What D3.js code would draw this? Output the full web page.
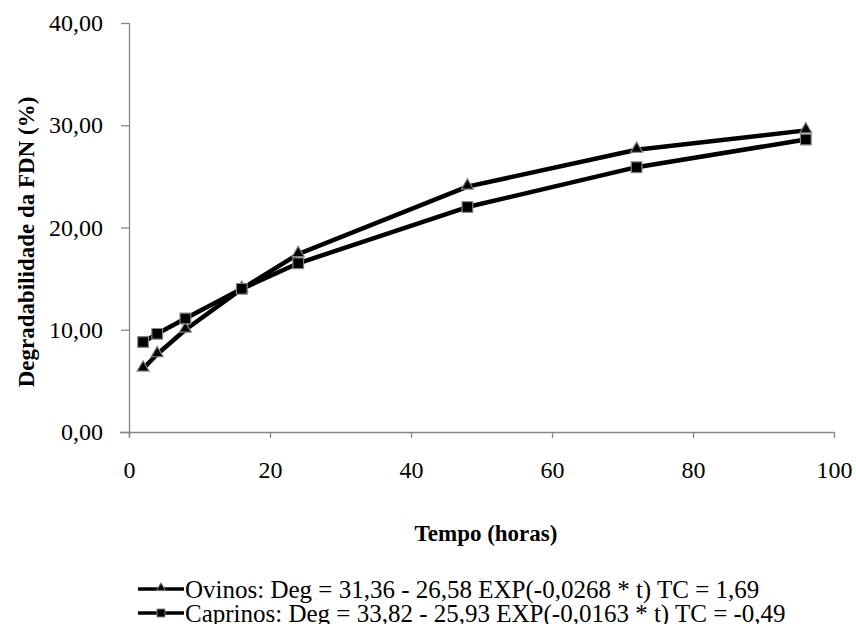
<!DOCTYPE html>
<html>
<head>
<meta charset="utf-8">
<script src="https://cdn.jsdelivr.net/npm/d3@7"></script>
</head>
<body style="margin:0; background:#fff">
<div id="chart"></div>
<script>
const hours = [2, 4, 8, 16, 24, 48, 72, 96]
const ovinos = [6.2, 7.6, 10.0, 14.0, 17.4, 24.0, 27.6, 29.5]
const caprinos = [8.8, 9.6, 11.1, 14.0, 16.5, 22.0, 25.9, 28.6]
const xTicks = [0, 20, 40, 60, 80, 100]
const yTicks = [0, 10, 20, 30, 40]
const seriesNames = [
    "Ovinos: Deg = 31,36 - 26,58 EXP(-0,0268 * t) TC = 1,69",
    "Caprinos: Deg = 33,82 - 25,93 EXP(-0,0163 * t) TC = -0,49"
]

var width = 856
var height = 624
var serif = "Liberation Serif"
var axisColor = "#868686"

const svg = d3.select("#chart")
    .append("svg")
    .attr("width", width)
    .attr("height", height)

var xScale = d3.scaleLinear().domain([0, 100]).range([129, 834])
var yScale = d3.scaleLinear().domain([0, 40]).range([432, 23])

// axes
var xAxis = d3.axisBottom(xScale).tickValues(xTicks).tickSize(6).tickPadding(23)
var gx = svg.append("g")
    .attr("transform", "translate(0," + yScale(0) + ")")
    .call(xAxis)
gx.select(".domain").attr("d", "M" + (xScale(0) - 9) + ",0.5H" + xScale(100))
gx.selectAll("path, line").attr("stroke", axisColor).attr("stroke-width", 1.3)
gx.selectAll("text")
    .attr("font-family", serif)
    .attr("font-size", 24)
    .attr("fill", "#000")

var yAxis = d3.axisLeft(yScale).tickValues(yTicks).tickSize(8).tickPadding(18)
    .tickFormat(d => d3.format(".2f")(d).replace(".", ","))
var gy = svg.append("g")
    .attr("transform", "translate(" + xScale(0) + ",0)")
    .call(yAxis)
gy.select(".domain").attr("d", "M0.5," + yScale(40) + "V" + (yScale(0) + 6))
gy.selectAll("path, line").attr("stroke", axisColor).attr("stroke-width", 1.3)
gy.selectAll("text")
    .attr("font-family", serif)
    .attr("font-size", 24)
    .attr("fill", "#000")

// axis titles
svg.append("text")
    .attr("transform", "translate(34,242) rotate(-90)")
    .attr("text-anchor", "middle")
    .attr("font-family", serif)
    .attr("font-size", 23)
    .attr("font-weight", "bold")
    .text("Degradabilidade da FDN (%)")

svg.append("text")
    .attr("x", 486)
    .attr("y", 541)
    .attr("text-anchor", "middle")
    .attr("font-family", serif)
    .attr("font-size", 23)
    .attr("font-weight", "bold")
    .text("Tempo (horas)")

var line = d3.line()
    .x((d, i) => xScale(hours[i]))
    .y(d => yScale(d))

var series = [
    { values: ovinos, type: d3.symbolTriangle, size: 62, legendSize: 36, dy: -1 },
    { values: caprinos, type: d3.symbolSquare, size: 115, legendSize: 64, dy: 0 }
]

series.forEach(s => {
    svg.append("path")
        .datum(s.values)
        .attr("fill", "none")
        .attr("stroke", "#000")
        .attr("stroke-width", 4.5)
        .attr("stroke-linejoin", "round")
        .attr("d", line)

    svg.selectAll(null)
        .data(s.values)
        .enter()
        .append("path")
        .attr("transform", (d, i) => "translate(" + xScale(hours[i]) + "," + (yScale(d) + s.dy) + ")")
        .attr("d", d3.symbol().type(s.type).size(s.size))
        .attr("fill", "#000")
        .attr("stroke", axisColor)
        .attr("stroke-width", 1.2)
})

// legend
var legend = svg.append("g")
series.forEach((s, i) => {
    var y = 589 + i * 24
    legend.append("line")
        .attr("x1", 138).attr("x2", 184)
        .attr("y1", y).attr("y2", y)
        .attr("stroke", "#000")
        .attr("stroke-width", 3.5)
    legend.append("path")
        .attr("transform", "translate(161," + (y + s.dy) + ")")
        .attr("d", d3.symbol().type(s.type).size(s.legendSize))
        .attr("fill", "#000")
        .attr("stroke", axisColor)
        .attr("stroke-width", 1)
    legend.append("text")
        .attr("x", 185)
        .attr("y", y + 9)
        .attr("font-family", serif)
        .attr("font-size", 25)
        .text(seriesNames[i])
})
</script>
</body>
</html>
